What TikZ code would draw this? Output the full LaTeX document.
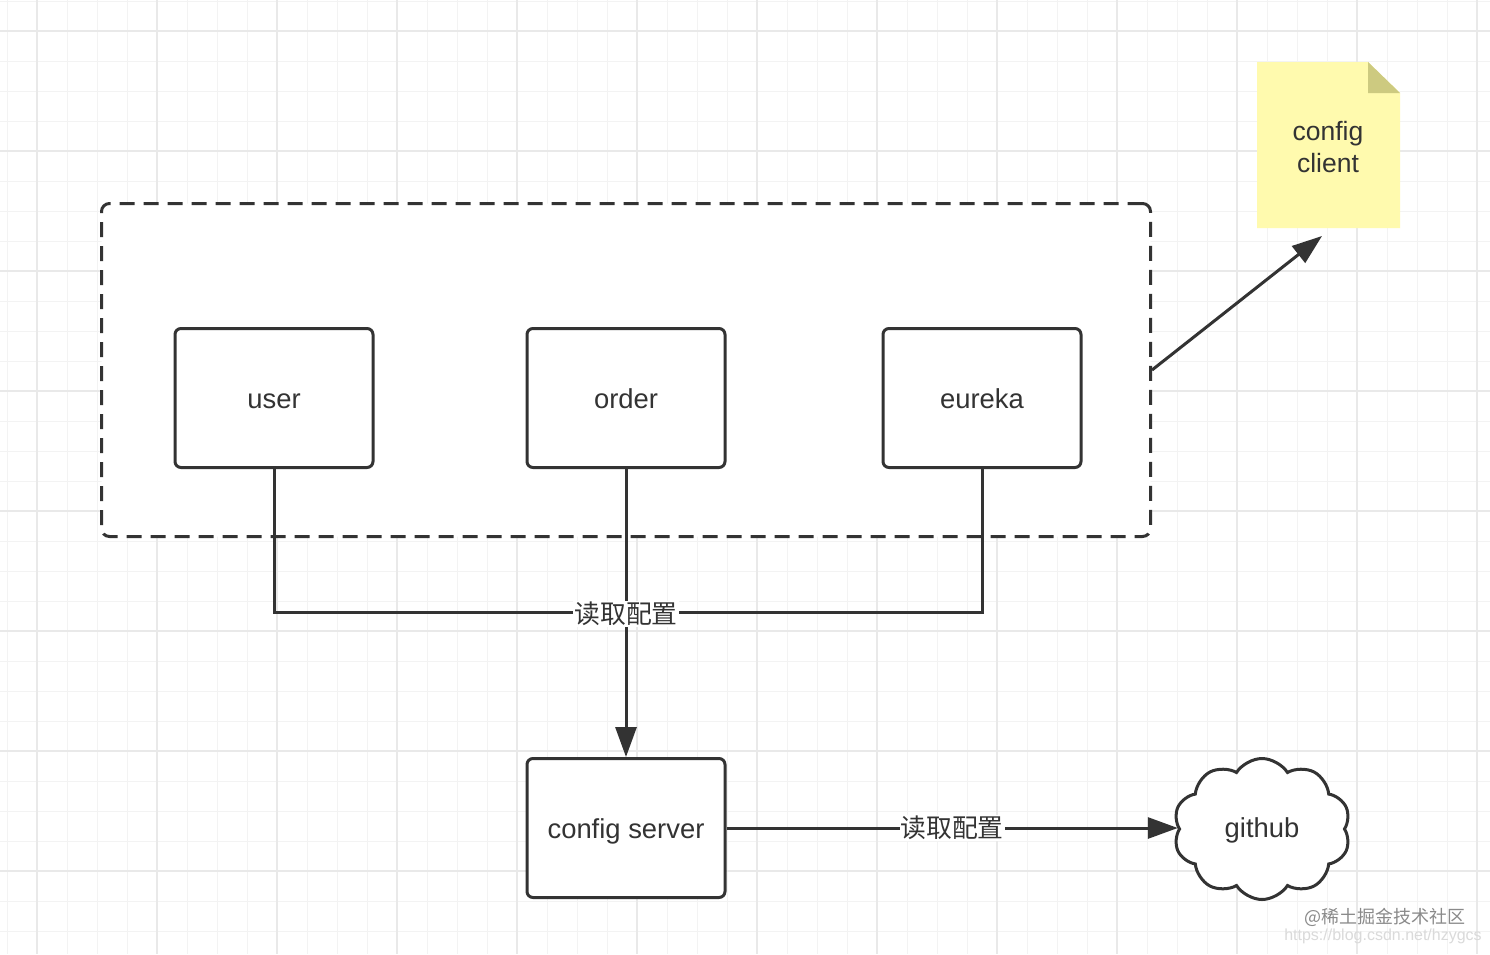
\documentclass[tikz,border=0pt]{standalone}
\usepackage{fontspec}
\setmainfont{Liberation Sans}
\newfontfamily\cjk{Noto Sans CJK SC}
\usetikzlibrary{shapes.symbols,arrows.meta}
\definecolor{ink}{HTML}{333333}
\definecolor{gridminor}{HTML}{F3F3F3}
\definecolor{gridmajor}{HTML}{E9E9E9}
\definecolor{notefill}{HTML}{FFFAAE}
\definecolor{notefold}{HTML}{CDCA80}
\definecolor{wmark}{HTML}{8A8A8A}
\definecolor{wurl}{HTML}{DADADA}
\tikzset{
  minorline/.style={draw=gridminor, line width=1pt},
  majorline/.style={draw=gridmajor, line width=1.5pt},
  svc/.style={draw=ink, fill=white, line width=3pt, rounded corners=6pt,
    minimum width=198pt, minimum height=139pt, inner sep=0pt,
    text height=26pt, text depth=6pt,
    font=\fontsize{27.4}{32}\selectfont, text=ink},
  groupbox/.style={draw=ink, fill=white, line width=3pt, rounded corners=8pt,
    dash pattern=on 15pt off 9pt, minimum width=1049pt, minimum height=333pt, inner sep=0pt},
  conn/.style={draw=ink, line width=3pt},
  arr/.style={conn, -{Triangle[length=30pt,width=21pt]}},
  lab/.style={fill=white, inner sep=1pt, text=ink, font=\cjk\fontsize{25.8}{30}\selectfont},
}
\begin{document}
\begin{tikzpicture}[x=1pt,y=-1pt]
\useasboundingbox (0,0) rectangle (1490,954);
\fill[white] (0,0) rectangle (1490,954);
% grid
\foreach \x in {7,37,...,1487} \draw[minorline] (\x,0) -- (\x,954);
\foreach \y in {1,31,...,951} \draw[minorline] (0,\y) -- (1490,\y);
\foreach \x in {37,157,...,1487} \draw[majorline] (\x,0) -- (\x,954);
\foreach \y in {31,151,...,951} \draw[majorline] (0,\y) -- (1490,\y);

% group container
\node[groupbox] (group) at (626,370) {};

% services
\node[svc] (user) at (274,398) {user};
\node[svc] (order) at (626,398) {order};
\node[svc] (eureka) at (982,398) {eureka};
\node[svc] (server) at (626,828) {config server};

% cloud
\node[cloud, cloud puffs=10, cloud puff arc=115, cloud ignores aspect,
      draw=ink, fill=white, line width=3pt, minimum width=177pt, minimum height=141pt,
      inner sep=0pt, text height=23pt, text depth=6pt,
      font=\fontsize{27.4}{32}\selectfont, text=ink] (github) at (1262,829) {github};

% note
\fill[notefill] (1257,62) -- (1368,62) -- (1400,93) -- (1400,228) -- (1257,228) -- cycle;
\fill[notefold] (1368,62) -- (1368,93) -- (1400,93) -- cycle;
\node[align=center, font=\fontsize{26.5}{32}\selectfont, text=ink] (note) at (1328,147) {config\\client};

% connectors
\coordinate (j) at (626,612);
\coordinate (ctip) at (1322,236);
\draw[conn] (user.south) |- (j);
\draw[conn] (eureka.south) |- (j);
\draw[arr] (order.south) -- (server.north);
\node[lab] at ([yshift=-2pt]j) {读取配置};
\draw[arr] (server.east) -- node[lab, pos=0.5] {读取配置} (server.east -| github.west);
\draw[arr] (group.east) -- (ctip);

% watermark
\node[font=\cjk\fontsize{18}{20}\selectfont, text=wmark] (wm) at (1385,917) {@稀土掘金技术社区};
\node[font=\fontsize{16}{18}\selectfont, text=wurl] (url) at (1383,936) {https://blog.csdn.net/hzygcs};
\end{tikzpicture}
\end{document}
